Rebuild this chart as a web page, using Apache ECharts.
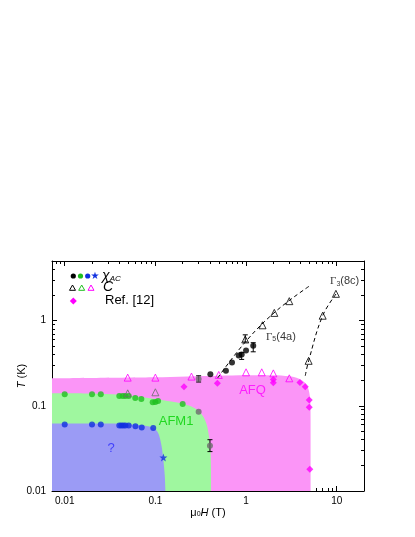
<!DOCTYPE html>
<html>
<head>
<meta charset="utf-8">
<script src="https://cdn.jsdelivr.net/npm/echarts@6/dist/echarts.min.js"></script>
<style>
html, body { margin: 0; padding: 0; background: #fff; }
#chart { width: 415px; height: 537px; }
</style>
</head>
<body>
<div id="chart"></div>
<script>
// axis ticks
const xMajor = [0.01, 0.1, 1, 10];
const xMinor = [0.008, 0.009, 0.02, 0.03, 0.04, 0.05, 0.06, 0.07, 0.08, 0.09,
  0.2, 0.3, 0.4, 0.5, 0.6, 0.7, 0.8, 0.9, 2, 3, 4, 5, 6, 7, 8, 9];
const yMajor = [0.01, 0.1, 1];
const yMinor = [0.02, 0.03, 0.04, 0.05, 0.06, 0.07, 0.08, 0.09,
  0.2, 0.3, 0.4, 0.5, 0.6, 0.7, 0.8, 0.9, 2, 3, 4];

// phase boundaries [H, T]
const afqBoundary = [[0.00724, 0.21], [0.1, 0.216], [0.5, 0.225], [1, 0.228], [2, 0.228], [3, 0.222],
  [3.6, 0.214], [4.1, 0.2], [4.5, 0.185], [4.8, 0.165], [5.0, 0.14], [5.12, 0.11], [5.15, 0.07], [5.15, 0.01]];
const afm1Boundary = [[0.00724, 0.14], [0.02, 0.139], [0.04, 0.135], [0.07, 0.127], [0.1, 0.12], [0.15, 0.112],
  [0.2, 0.106], [0.25, 0.098], [0.3, 0.087], [0.34, 0.074], [0.37, 0.059], [0.39, 0.044], [0.405, 0.03],
  [0.41, 0.02], [0.412, 0.01]];
const unknownBoundary = [[0.00724, 0.062], [0.03, 0.062], [0.06, 0.06], [0.08, 0.058], [0.095, 0.055],
  [0.105, 0.05], [0.112, 0.042], [0.118, 0.032], [0.123, 0.022], [0.127, 0.015], [0.129, 0.01]];

// χAC
const chiBlack = [[0.404, 0.234], [0.60, 0.258], [0.70, 0.321], [0.83, 0.388], [0.895, 0.40], [1.0, 0.444], [1.2, 0.508]];
const chiGray = [[0.30, 0.206], [0.30, 0.085], [0.40, 0.034]];
const chiGreen = [[0.01, 0.137], [0.02, 0.137], [0.025, 0.137], [0.04, 0.130], [0.0436, 0.130], [0.0467, 0.130],
  [0.0508, 0.130], [0.06, 0.123], [0.07, 0.120], [0.0934, 0.110], [0.1, 0.111], [0.107, 0.114], [0.2, 0.105]];
const chiBlue = [[0.01, 0.0604], [0.02, 0.0604], [0.025, 0.0604], [0.04, 0.0588], [0.0421, 0.0588], [0.0443, 0.0588],
  [0.0467, 0.0588], [0.0508, 0.0588], [0.0603, 0.0576], [0.0707, 0.0557], [0.0947, 0.0547]];
const chiStar = [[0.1226, 0.0247]];
// C
const cBlack = [[0.98, 0.60], [1.52, 0.88], [2.05, 1.23], [3.0, 1.69], [4.9, 0.337], [7.0, 1.14], [9.8, 2.06]];
const cGray = [[0.0495, 0.14], [0.1, 0.144]];
const cMagenta = [[0.0495, 0.214], [0.1, 0.214], [0.25, 0.22], [0.5, 0.23], [1.0, 0.247], [1.49, 0.247], [2.0, 0.24], [3.0, 0.21]];
// Ref. [12]
const refDiamonds = [[0.207, 0.167], [0.483, 0.184], [2.0, 0.204], [2.0, 0.186], [3.93, 0.187], [4.5, 0.167],
  [4.98, 0.117], [4.98, 0.096], [5.05, 0.018]];
// error bars [H, low, high]
const errBars = [[0.30, 0.19, 0.225], [0.40, 0.029, 0.040], [0.895, 0.35, 0.42], [1.2, 0.43, 0.55], [0.98, 0.56, 0.68]];
// dashed guide lines
const gamma5Line = [[0.486, 0.212], [1.0, 0.573], [2.14, 1.29], [4.99, 2.54]];
const gamma3Line = [[4.5, 0.225], [4.9, 0.337], [7.0, 1.14], [10, 2.1]];

const chart = echarts.init(document.getElementById('chart'));
const sans = 'Liberation Sans';
const fmt = v => String(+(+v).toPrecision(2));

function tickAxis(pos, vals, len, main) {
  return {
    type: 'log', position: pos, min: 0, max: 0,
    axisLine: { show: main, lineStyle: { color: '#000', width: 1 } },
    axisTick: { show: true, inside: true, length: len, customValues: vals, lineStyle: { color: '#000', width: 1 } },
    axisLabel: { show: false },
    splitLine: { show: false }
  };
}
const xr = [0.00724, 20], yr = [0.01, 5];
const xAxes = [
  tickAxis('bottom', xMajor, 5, true),
  tickAxis('bottom', xMinor, 3, false),
  tickAxis('top', xMajor, 5, true),
  tickAxis('top', xMinor, 3, false)
].map(a => Object.assign(a, { min: xr[0], max: xr[1] }));
const yAxes = [
  tickAxis('left', yMajor, 5, true),
  tickAxis('left', yMinor, 3, false),
  tickAxis('right', yMajor, 5, true),
  tickAxis('right', yMinor, 3, false)
].map(a => Object.assign(a, { min: yr[0], max: yr[1] }));

xAxes[0].axisLabel = { show: true, customValues: xMajor, formatter: fmt, color: '#000', fontSize: 10, fontFamily: sans, margin: 5 };
xAxes[0].name = '{a|μ}{s|0}{i|H}{a| (T)}';
xAxes[0].nameLocation = 'middle';
xAxes[0].nameGap = 16;
xAxes[0].nameTextStyle = {
  rich: {
    a: { fontSize: 11, fontFamily: sans, color: '#000' },
    i: { fontSize: 11, fontFamily: sans, fontStyle: 'italic', color: '#000' },
    s: { fontSize: 7, fontFamily: sans, color: '#000', verticalAlign: 'bottom', padding: [4, 0, 0, 0] }
  }
};
yAxes[0].axisLabel = { show: true, customValues: yMajor, formatter: fmt, color: '#000', fontSize: 10, fontFamily: sans, margin: 6 };
yAxes[0].name = '{i|T} (K)';
yAxes[0].nameLocation = 'middle';
yAxes[0].nameMoveOverlap = false;
yAxes[0].nameGap = 25;
yAxes[0].nameTextStyle = {
  fontSize: 11, fontFamily: sans, color: '#000',
  rich: { i: { fontSize: 11, fontFamily: sans, fontStyle: 'italic', color: '#000' } }
};

function area(data, color) {
  return {
    type: 'line', data: data, smooth: 0.3, showSymbol: false, silent: true, z: 1,
    lineStyle: { width: 0 }, areaStyle: { color: color, opacity: 1 }
  };
}
function dots(data, symbol, size, color, open) {
  return {
    type: 'scatter', data: data, symbol: symbol, symbolSize: size, silent: true, z: 5,
    itemStyle: open ? { color: 'rgba(255,255,255,0)', borderColor: color, borderWidth: 1 } : { color: color }
  };
}
function dashed(data) {
  return {
    type: 'line', data: data, smooth: 0.4, showSymbol: false, silent: true, z: 3,
    lineStyle: { color: '#000', width: 1, type: [4, 3] }
  };
}
function note(h, t, text, pos, rich, color) {
  return {
    type: 'scatter', data: [[h, t]], symbolSize: 0, silent: true, z: 6,
    label: {
      show: true, position: pos, distance: 0, formatter: text, color: color,
      fontSize: 13, fontFamily: sans, rich: rich
    }
  };
}
const gRich = {
  g: { fontSize: 11, fontFamily: 'Liberation Serif', color: '#000' },
  s: { fontSize: 7, fontFamily: sans, color: '#000', verticalAlign: 'bottom', padding: [5, 0, 0, 0] },
  t: { fontSize: 11, fontFamily: sans, color: '#000' }
};
const starPath = 'path://M0,-10L2.35,-3.24L9.51,-3.09L3.8,1.24L5.88,8.09L0,4L-5.88,8.09L-3.8,1.24L-9.51,-3.09L-2.35,-3.24Z';

const series = [
  area(afqBoundary, '#fb95f7'),
  area(afm1Boundary, '#9ff79f'),
  area(unknownBoundary, '#9b9bf5'),
  dashed(gamma5Line),
  dashed(gamma3Line),
  {
    type: 'custom', data: errBars, silent: true, z: 4,
    encode: { x: 0, y: [1, 2] },
    renderItem: function (params, api) {
      const lo = api.coord([api.value(0), api.value(1)]);
      const hi = api.coord([api.value(0), api.value(2)]);
      const st = { stroke: '#000', lineWidth: 1 };
      return {
        type: 'group', children: [
          { type: 'line', shape: { x1: lo[0], y1: lo[1], x2: hi[0], y2: hi[1] }, style: st },
          { type: 'line', shape: { x1: lo[0] - 2.5, y1: lo[1], x2: lo[0] + 2.5, y2: lo[1] }, style: st },
          { type: 'line', shape: { x1: hi[0] - 2.5, y1: hi[1], x2: hi[0] + 2.5, y2: hi[1] }, style: st }
        ]
      };
    }
  },
  dots(chiGreen, 'circle', 6, '#1fbf1f'),
  dots(chiBlue, 'circle', 6, '#1030e0'),
  dots(chiStar, starPath, 8, '#1030e0'),
  dots(chiGray, 'circle', 6, '#6b6b6b'),
  dots(chiBlack, 'circle', 6, '#000'),
  dots(refDiamonds, 'diamond', 7, '#ff00ff'),
  dots(cMagenta, 'triangle', 7, '#ff00ff', true),
  dots(cGray, 'triangle', 7, '#6b6b6b', true),
  dots(cBlack, 'triangle', 7, '#000', true),
  note(1.66, 0.648, '{g|Γ}{s|5}{t|(4a)}', 'right', gRich, '#000'),
  note(8.44, 2.88, '{g|Γ}{s|3}{t|(8c)}', 'right', gRich, '#000'),
  note(1.18, 0.15, 'AFQ', 'inside', null, '#ff00ff'),
  note(0.169, 0.0649, 'AFM1', 'inside', null, '#00d000'),
  note(0.0325, 0.0315, '?', 'inside', null, '#2b2bff')
];

// legend glyphs (drawn by hand, 3 rows)
function tri(cx, cy, color) {
  return { type: 'polygon', shape: { points: [[cx, cy - 3], [cx + 3, cy + 2.3], [cx - 3, cy + 2.3]] },
    style: { fill: '#fff', stroke: color, lineWidth: 1 } };
}
function dot(cx, cy, color) {
  return { type: 'circle', shape: { cx: cx, cy: cy, r: 2.6 }, style: { fill: color } };
}
const legendGraphics = [
  dot(73.3, 276, '#000'), dot(80.5, 276, '#1fbf1f'), dot(87.7, 276, '#1030e0'),
  { type: 'text', x: 95, y: 276, style: { text: '★', fill: '#1030e0', font: '10px "DejaVu Sans"', align: 'center', verticalAlign: 'middle' } },
  { type: 'text', x: 102, y: 276, style: { text: '{c|χ}{s|AC}', verticalAlign: 'middle',
    rich: { c: { font: 'italic 14px "Liberation Sans"', fill: '#000' },
            s: { font: 'italic 8px "Liberation Sans"', fill: '#000', verticalAlign: 'bottom', padding: [5, 0, 0, 0] } } } },
  tri(72.5, 288, '#000'), tri(81.7, 288, '#1fbf1f'), tri(91, 288, '#ff00ff'),
  { type: 'text', x: 103, y: 287.5, style: { text: 'C', font: 'italic 14px "Liberation Sans"', fill: '#000', verticalAlign: 'middle' } },
  { type: 'polygon', shape: { points: [[73.3, 297.5], [76.8, 301], [73.3, 304.5], [69.8, 301]] }, style: { fill: '#ff00ff' } },
  { type: 'text', x: 105, y: 300, style: { text: 'Ref. [12]', font: '13px "Liberation Sans"', fill: '#000', verticalAlign: 'middle' } }
];

chart.setOption({
  animation: false,
  backgroundColor: '#fff',
  grid: { left: 52, right: 51, top: 261, bottom: 46 },
  xAxis: xAxes,
  yAxis: yAxes,
  series: series,
  graphic: legendGraphics
});
</script>
</body>
</html>
